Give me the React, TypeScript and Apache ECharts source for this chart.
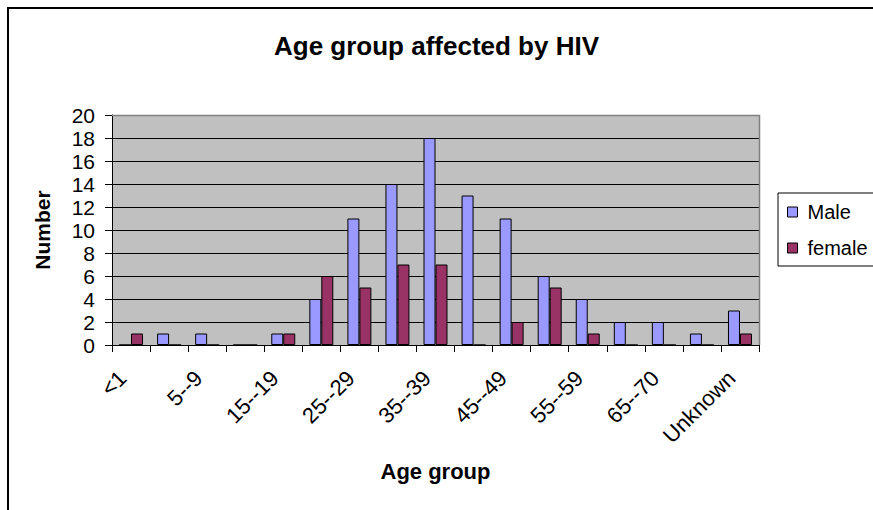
import React, { useEffect, useRef } from "react";
import * as echarts from "echarts";

const categories = ["<1", "1--4", "5--9", "10--14", "15--19", "20--24", "25--29", "30--34", "35--39", "40--44", "45--49", "50--54", "55--59", "60--64", "65--70", ">70", "Unknown"];
const maleValues = [0, 1, 1, 0, 1, 4, 11, 14, 18, 13, 11, 6, 4, 2, 2, 1, 3];
const femaleValues = [1, 0, 0, 0, 1, 6, 5, 7, 7, 0, 2, 5, 1, 0, 0, 0, 1];
const seriesNames = ["Male", "female"];
const yTicks = { min: 0, max: 20, interval: 2 };

const FONT = "'Liberation Sans', Arial, sans-serif";

export default function App() {
  const ref = useRef<HTMLDivElement>(null);
  useEffect(() => {
    if (!ref.current) return;
    const chart = echarts.init(ref.current, null, { renderer: "svg" });
    chart.setOption({
      animation: false,
      backgroundColor: "#ffffff",
      textStyle: { fontFamily: FONT },
      title: {
        text: "Age group affected by HIV",
        left: "center",
        top: 28,
        textStyle: { fontSize: 26, fontWeight: "bold", color: "#000", fontFamily: FONT },
      },
      graphic: [
        {
          type: "rect",
          shape: { x: 8, y: 8, width: 900, height: 560 },
          style: { fill: "none", stroke: "#000", lineWidth: 2 },
          silent: true,
        },
        {
          type: "polyline",
          shape: { points: [[112, 115.5], [759.5, 115.5], [759.5, 345]] },
          style: { fill: "none", stroke: "#808080", lineWidth: 1.5 },
          silent: true,
          z: 100,
        },
      ],
      legend: {
        orient: "vertical",
        left: 778,
        top: 193,
        padding: [9, 40, 8, 9],
        itemWidth: 10,
        itemHeight: 10,
        itemGap: 16,
        borderColor: "#000",
        borderWidth: 1,
        icon: "rect",
        itemStyle: { borderColor: "#000", borderWidth: 1 },
        textStyle: { fontSize: 20, color: "#000", lineHeight: 20, fontFamily: FONT, padding: [0, 0, 0, 5] },
        data: seriesNames,
      },
      grid: { left: 112, top: 115, right: 114, bottom: 165, backgroundColor: "#C0C0C0", show: true, borderWidth: 0 },
      xAxis: {
        type: "category",
        data: categories,
        name: "Age group",
        nameLocation: "middle",
        nameGap: 115,
        nameTextStyle: { fontSize: 22, fontWeight: "bold", color: "#000", fontFamily: FONT },
        axisLine: { lineStyle: { color: "#000", width: 1 } },
        axisTick: { show: true, interval: 0, length: 7, lineStyle: { color: "#000" }, alignWithLabel: false },
        axisLabel: { interval: 1, rotate: 45, fontSize: 22, color: "#000", margin: 21, padding: [0, 12, 0, 0], fontFamily: FONT },
      },
      yAxis: {
        type: "value",
        min: yTicks.min,
        max: yTicks.max,
        interval: yTicks.interval,
        name: "Number",
        nameLocation: "middle",
        nameRotate: 90,
        nameGap: 59,
        nameTextStyle: { fontSize: 21, fontWeight: "bold", color: "#000", fontFamily: FONT },
        axisLine: { show: true, lineStyle: { color: "#000", width: 1 } },
        axisTick: { show: true, length: 7, lineStyle: { color: "#000" } },
        axisLabel: { fontSize: 21, color: "#000", margin: 17, fontFamily: FONT },
        splitLine: { show: true, lineStyle: { color: "#000", width: 1 } },
      },
      series: [
        {
          name: seriesNames[0],
          type: "bar",
          data: maleValues,
          barGap: "0%",
          barCategoryGap: "37%",
          itemStyle: { color: "#9999FF", borderColor: "#000", borderWidth: 1 },
        },
        {
          name: seriesNames[1],
          type: "bar",
          data: femaleValues,
          barGap: "0%",
          barCategoryGap: "37%",
          itemStyle: { color: "#993366", borderColor: "#000", borderWidth: 1 },
        },
      ],
    });
    return () => chart.dispose();
  }, []);
  return (
    <div
      ref={ref}
      style={{ position: "absolute", left: 0, top: 0, width: 873, height: 510 }}
    />
  );
}
